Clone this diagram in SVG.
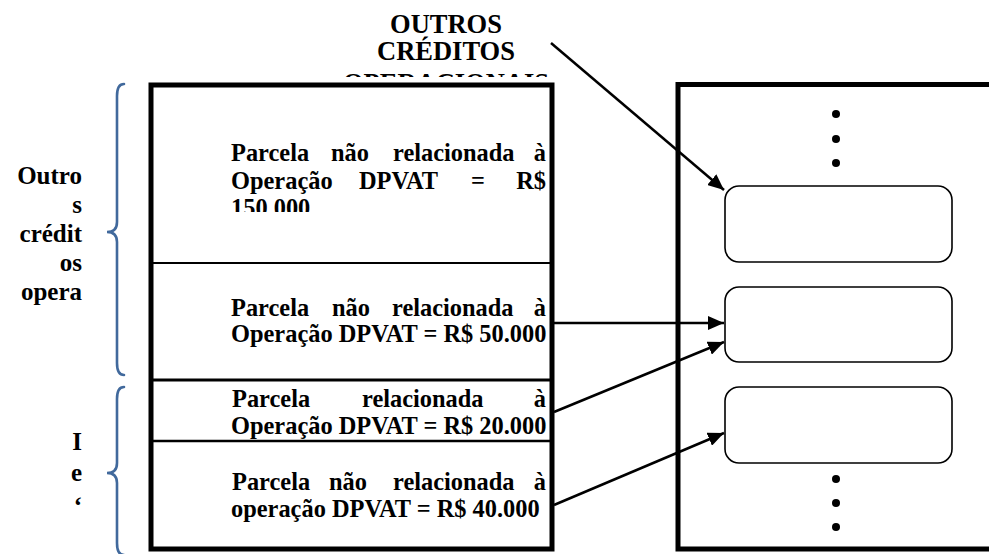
<svg xmlns="http://www.w3.org/2000/svg" width="989" height="554" viewBox="0 0 989 554">
<style>
.t{font-family:"Liberation Serif","Times New Roman",serif;font-weight:bold;font-size:24.4px;fill:#000}
.lbl{font-family:"Liberation Serif","Times New Roman",serif;font-weight:bold;font-size:25px;fill:#000;text-anchor:end}
.ttl{font-family:"Liberation Serif","Times New Roman",serif;font-weight:bold;font-size:26.5px;fill:#000;text-anchor:middle}
.e{text-anchor:end}
.box{fill:none;stroke:#000;stroke-width:5}
.rr{fill:#fff;stroke:#000;stroke-width:1.6}
.brace{fill:none;stroke:#41699c;stroke-width:2.6;stroke-linecap:round}
.arr{fill:none;stroke:#000;stroke-width:2.5;marker-end:url(#ah)}
.dot{fill:#000}
</style>
<defs>
<marker id="ah" markerUnits="userSpaceOnUse" markerWidth="16" markerHeight="14" refX="16" refY="7" orient="auto">
<path d="M0,0 L16,7 L0,14 z" fill="#000"/>
</marker>
<clipPath id="cTitle"><rect x="300" y="0" width="300" height="77"/></clipPath>
<clipPath id="cS1"><rect x="200" y="90" width="350" height="122"/></clipPath>
</defs>
<rect width="989" height="554" fill="#fff"/>

<g id="title" clip-path="url(#cTitle)">
<text class="ttl" x="446" y="33">OUTROS</text>
<text class="ttl" x="446" y="60">CRÉDITOS</text>
<text class="ttl" x="446" y="92">OPERACIONAIS</text>
</g>

<g id="brace-top">
<path class="brace" d="M124,84 Q117,84 117,96 L117,222 Q117,232 107,232 Q117,232 117,242 L117,363 Q117,375 124,375"/>
<text class="lbl" x="82" y="184">Outro</text>
<text class="lbl" x="82" y="213">s</text>
<text class="lbl" x="82" y="242">crédit</text>
<text class="lbl" x="82" y="271">os</text>
<text class="lbl" x="82" y="300">opera</text>
</g>

<g id="brace-bottom">
<path class="brace" d="M124,387 Q117,387 117,399 L117,463 Q117,473 107,473 Q117,473 117,483 L117,543 Q117,555 124,555"/>
<text class="lbl" x="82" y="450">I</text>
<text class="lbl" x="82" y="481">e</text>
<text class="lbl" x="82" y="514">‘</text>
</g>

<g id="left-box">
<rect class="box" x="151" y="85" width="401" height="464"/>
<line x1="151" y1="263" x2="552" y2="263" stroke="#000" stroke-width="2"/>
<line x1="151" y1="380" x2="552" y2="380" stroke="#000" stroke-width="3"/>
<line x1="151" y1="441" x2="552" y2="441" stroke="#000" stroke-width="2.5"/>
</g>

<g id="section1" clip-path="url(#cS1)">
<text class="t" x="231" y="161">Parcela</text>
<text class="t" x="331" y="161">não</text>
<text class="t" x="393" y="161">relacionada</text>
<text class="t e" x="546" y="161">à</text>
<text class="t" x="231" y="189">Operação</text>
<text class="t" x="359" y="189">DPVAT</text>
<text class="t" x="471" y="189">=</text>
<text class="t e" x="546" y="189">R$</text>
<text class="t" x="231" y="216">150.000</text>
</g>

<g id="section2">
<text class="t" x="231" y="316">Parcela</text>
<text class="t" x="332" y="316">não</text>
<text class="t" x="392" y="316">relacionada</text>
<text class="t e" x="546" y="316">à</text>
<text class="t" x="231" y="342">Operação DPVAT = R$ 50.000</text>
</g>

<g id="section3">
<text class="t" x="232" y="407">Parcela</text>
<text class="t" x="362" y="407">relacionada</text>
<text class="t e" x="546" y="407">à</text>
<text class="t" x="231" y="434">Operação DPVAT = R$ 20.000</text>
</g>

<g id="section4">
<text class="t" x="232" y="490">Parcela</text>
<text class="t" x="329" y="490">não</text>
<text class="t" x="393" y="490">relacionada</text>
<text class="t e" x="546" y="490">à</text>
<text class="t" x="231" y="517">operação DPVAT = R$ 40.000</text>
</g>

<g id="right-box">
<path class="box" d="M995,84.5 H678 V549 H995"/>
<circle class="dot" cx="836" cy="114" r="4"/>
<circle class="dot" cx="836" cy="139" r="4"/>
<circle class="dot" cx="836" cy="163" r="4"/>
<circle class="dot" cx="836" cy="479" r="4"/>
<circle class="dot" cx="836" cy="503" r="4"/>
<circle class="dot" cx="836" cy="527" r="4"/>
</g>

<g id="slot1"><rect class="rr" x="725" y="186" width="227" height="76" rx="14"/></g>
<g id="slot2"><rect class="rr" x="725" y="287" width="227" height="75" rx="14"/></g>
<g id="slot3"><rect class="rr" x="725" y="387" width="227" height="76" rx="14"/></g>

<g id="connectors">
<line class="arr" x1="551" y1="43" x2="724" y2="190"/>
<line class="arr" x1="554" y1="323" x2="724" y2="323"/>
<line class="arr" x1="554" y1="412" x2="724" y2="342"/>
<line class="arr" x1="554" y1="505" x2="724" y2="433"/>
</g>
</svg>
